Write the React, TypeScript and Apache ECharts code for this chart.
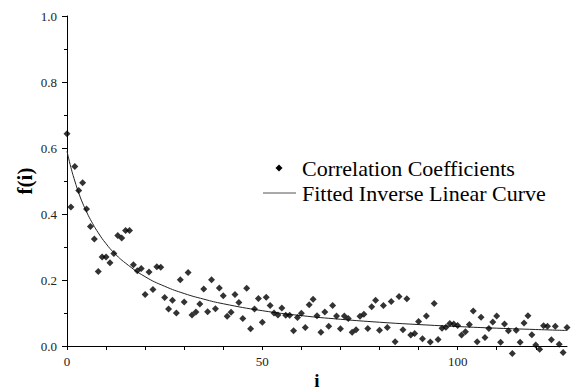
import React, { useEffect, useRef } from "react";
import * as echarts from "echarts";

// Correlation coefficients f(i), i = 0..128
const fValues: number[] = [
  0.643, 0.421, 0.544, 0.471, 0.495, 0.415, 0.362, 0.324, 0.226, 0.27,
  0.27, 0.252, 0.28, 0.335, 0.327, 0.35, 0.35, 0.246, 0.228, 0.235,
  0.156, 0.224, 0.171, 0.24, 0.239, 0.147, 0.112, 0.139, 0.1, 0.201,
  0.133, 0.223, 0.094, 0.103, 0.127, 0.173, 0.104, 0.201, 0.113, 0.176,
  0.152, 0.09, 0.102, 0.156, 0.132, 0.083, 0.175, 0.052, 0.112, 0.144,
  0.072, 0.148, 0.123, 0.1, 0.094, 0.115, 0.093, 0.093, 0.046, 0.086,
  0.099, 0.056, 0.125, 0.142, 0.092, 0.042, 0.103, 0.06, 0.123, 0.091,
  0.052, 0.091, 0.083, 0.042, 0.049, 0.09, 0.096, 0.053, 0.119, 0.139,
  0.048, 0.123, 0.056, 0.135, 0.013, 0.15, 0.049, 0.143, 0.033, 0.038,
  0.074, 0.022, 0.091, 0.012, 0.129, 0.02, 0.054, 0.057, 0.068, 0.067,
  0.062, 0.033, 0.043, 0.065, 0.106, 0.013, 0.087, 0.026, 0.053, 0.073,
  0.091, 0.011, 0.067, 0.046, -0.023, 0.048, 0.011, 0.07, 0.092, 0.034,
  0.003, -0.01, 0.061, 0.06, 0.019, 0.06, 0.005, -0.02, 0.056,
];

// Fitted inverse linear curve, read at selected i
const curveI: number[] = [0, 1, 2, 3, 4, 5, 6, 8, 10, 12, 15, 20, 25, 30, 35, 40, 50, 60, 70, 80, 90, 100, 110, 120, 128];
const curveF: number[] = [0.59, 0.541, 0.5, 0.464, 0.433, 0.407, 0.383, 0.343, 0.31, 0.283, 0.251, 0.21, 0.181, 0.159, 0.142, 0.128, 0.107, 0.092, 0.081, 0.072, 0.065, 0.059, 0.054, 0.05, 0.047];

const xTickValues: number[] = [0, 10, 20, 30, 40, 50, 60, 70, 80, 90, 100, 110, 120];
const xLabelValues: number[] = [0, 50, 100];

const seriesNames = ["Correlation Coefficients", "Fitted Inverse Linear Curve"];

const FONT = "'Liberation Serif', 'Times New Roman', Times, serif";

export default function App() {
  const ref = useRef<HTMLDivElement>(null);

  useEffect(() => {
    if (!ref.current) return;
    const chart = echarts.init(ref.current, null, { renderer: "svg" });
    const scatterData = fValues.map((v, i) => [i, v]);
    const curveData = curveI.map((x, k) => [x, curveF[k]]);

    chart.setOption({
      animation: false,
      backgroundColor: "#ffffff",
      textStyle: { fontFamily: FONT },
      grid: { left: 67, top: 16, width: 500, height: 330, containLabel: false, outerBoundsMode: "none" },
      graphic: [
        {
          type: "polygon",
          shape: { points: [[279, 164.5], [282.5, 168], [279, 171.5], [275.5, 168]] },
          style: { fill: "#000" },
        },
        {
          type: "line",
          shape: { x1: 263, y1: 193, x2: 296, y2: 193 },
          style: { stroke: "#555", lineWidth: 1 },
        },
        {
          type: "text",
          x: 302,
          y: 168,
          style: { text: seriesNames[0], fontFamily: FONT, fontSize: 22, fill: "#000", verticalAlign: "middle" },
        },
        {
          type: "text",
          x: 302,
          y: 193,
          style: { text: seriesNames[1], fontFamily: FONT, fontSize: 22, fill: "#000", verticalAlign: "middle" },
        },
      ],
      xAxis: {
        type: "value",
        min: 0,
        max: 128,
        interval: 10,
        name: "i",
        nameLocation: "middle",
        nameGap: 27,
        nameMoveOverlap: false,
        nameTextStyle: { fontFamily: FONT, fontSize: 19, lineHeight: 14, fontWeight: "bold", color: "#000" },
        axisLine: { show: true, onZero: false, lineStyle: { color: "#000", width: 1 } },
        axisTick: { show: true, inside: false, length: 4, customValues: xTickValues, lineStyle: { color: "#000" } },
        axisLabel: { customValues: xLabelValues, fontFamily: FONT, fontSize: 13, color: "#222", margin: 9 },
        splitLine: { show: false },
      },
      yAxis: {
        type: "value",
        min: 0,
        max: 1,
        interval: 0.2,
        name: "f(i)",
        nameLocation: "middle",
        nameGap: 32,
        nameMoveOverlap: false,
        nameRotate: 90,
        nameTextStyle: { fontFamily: FONT, fontSize: 21, fontWeight: "bold", color: "#000" },
        axisLine: { show: true, onZero: false, lineStyle: { color: "#000", width: 1 } },
        axisTick: { show: true, inside: false, length: 5, lineStyle: { color: "#000" } },
        minorTick: { show: true, splitNumber: 2, length: 3, lineStyle: { color: "#000" } },
        axisLabel: {
          fontFamily: FONT,
          fontSize: 13,
          color: "#222",
          margin: 10,
          formatter: (v: number) => v.toFixed(1),
        },
        splitLine: { show: false },
        minorSplitLine: { show: false },
      },
      series: [
        {
          name: seriesNames[0],
          type: "scatter",
          symbol: "diamond",
          symbolSize: 7,
          clip: false,
          itemStyle: { color: "#000" },
          data: scatterData,
          z: 3,
        },
        {
          name: seriesNames[1],
          type: "line",
          symbol: "none",
          smooth: true,
          clip: false,
          lineStyle: { color: "#222", width: 1 },
          itemStyle: { color: "#222" },
          data: curveData,
          z: 2,
        },
      ],
    });

    return () => chart.dispose();
  }, []);

  return (
    <div
      ref={ref}
      style={{ position: "absolute", left: 0, top: 0, width: 571, height: 391, background: "#fff" }}
    />
  );
}
